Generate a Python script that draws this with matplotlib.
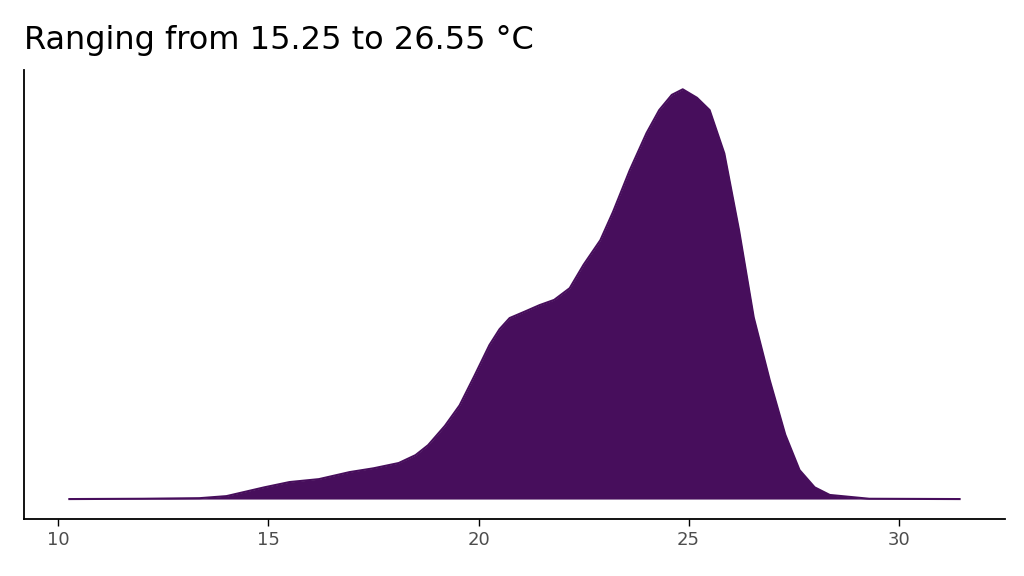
import matplotlib.pyplot as plt

# density estimate of temperature
temp = [10.26, 12.0, 13.36, 14.0, 14.3, 14.9, 15.5, 16.2, 16.93, 17.5, 18.1, 18.5,
        18.8, 19.2, 19.55, 19.9, 20.26, 20.5, 20.74, 21.1, 21.45, 21.8, 22.17, 22.5,
        22.9, 23.2, 23.6, 24.0, 24.3, 24.6, 24.86, 25.2, 25.5, 25.85, 26.2, 26.55,
        26.93, 27.3, 27.64, 28.0, 28.36, 29.3, 31.45]
density = [0, 0.0001, 0.0003, 0.0010, 0.0020, 0.0040, 0.0058, 0.0068, 0.0092, 0.0105,
           0.0123, 0.0150, 0.0184, 0.0250, 0.0320, 0.0420, 0.0526, 0.0580, 0.0618,
           0.0640, 0.0662, 0.0680, 0.0720, 0.0800, 0.0884, 0.0980, 0.1123, 0.1250,
           0.1328, 0.1380, 0.1399, 0.1370, 0.1328, 0.1180, 0.0918, 0.0620, 0.0406,
           0.0220, 0.0099, 0.0040, 0.0014, 0.0001, 0]
xticks = [10, 15, 20, 25, 30]

color = '#470E5C'

fig = plt.figure(figsize=(10.24, 5.76), dpi=100)
ax = fig.add_axes([0.023, 0.099, 0.958, 0.779])
ax.fill_between(temp, density, 0, color=color, linewidth=0)
ax.plot(temp, density, color=color, linewidth=1.5)

ax.set_xlim(9.17, 32.52)
ax.set_ylim(-0.0068, 0.1464)
ax.set_xticks(xticks)
ax.set_yticks([])
ax.tick_params(axis='x', labelsize=13, labelcolor='#4d4d4d', length=5, width=1)
for s in ['top', 'right']:
    ax.spines[s].set_visible(False)
for s in ['left', 'bottom']:
    ax.spines[s].set_linewidth(1.3)

fig.text(0.023, 0.93, 'Ranging from 15.25 to 26.55 °C', fontsize=23, ha='left', va='center')

plt.savefig('out.png')
